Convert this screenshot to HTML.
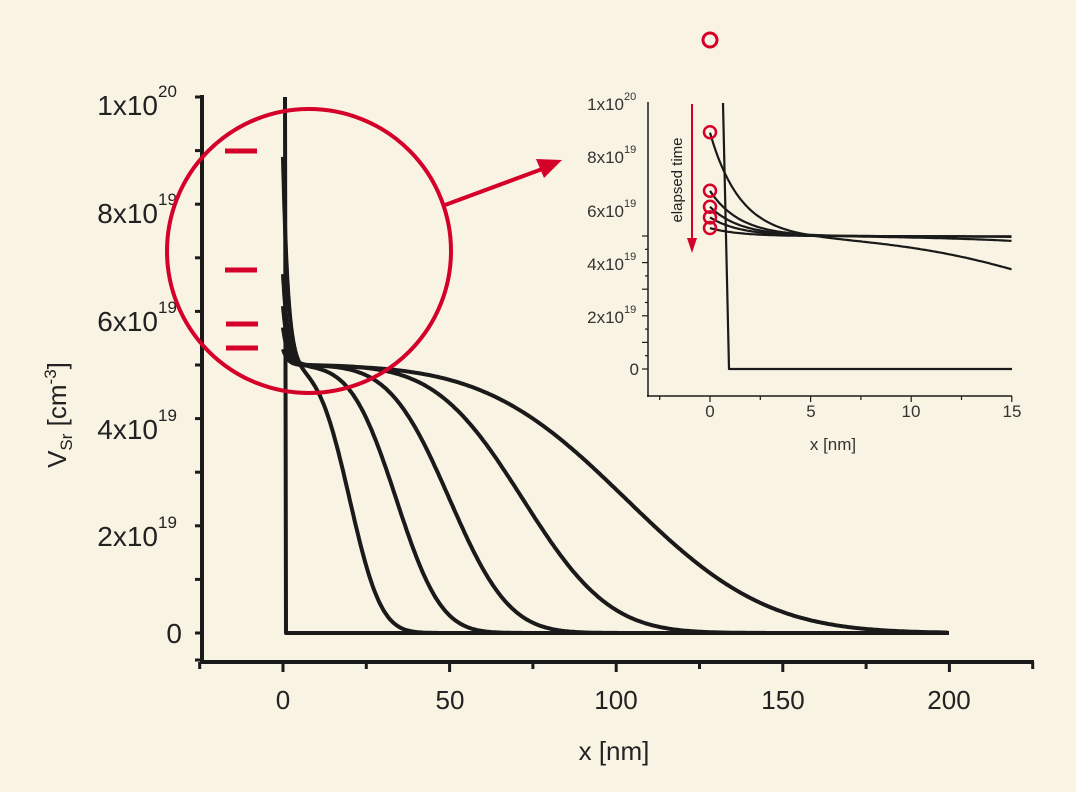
<!DOCTYPE html>
<html><head><meta charset="utf-8"><style>
html,body{margin:0;padding:0;background:#f9f3e3;}
svg{display:block;font-family:"Liberation Sans",sans-serif;}
</style></head><body>
<svg id="s" width="1076" height="792" viewBox="0 0 1076 792" xmlns="http://www.w3.org/2000/svg">
<rect width="1076" height="792" fill="#f9f3e3"/>
<g id="main"></g>
<g id="inset"></g>
<g stroke="#1a1a1a" stroke-width="4" fill="none">
<line x1="202" y1="95" x2="202" y2="664"/>
<line x1="200" y1="662" x2="1034" y2="662"/>
</g>
<g stroke="#1a1a1a" stroke-width="3" id="mticks"></g>
<g font-size="28" fill="#222" text-anchor="end">
<text x="158" y="115">1x10</text><text x="158" y="97" font-size="17" text-anchor="start">20</text>
<text x="158" y="223">8x10</text><text x="158" y="205" font-size="17" text-anchor="start">19</text>
<text x="158" y="331">6x10</text><text x="158" y="313" font-size="17" text-anchor="start">19</text>
<text x="158" y="439">4x10</text><text x="158" y="421" font-size="17" text-anchor="start">19</text>
<text x="158" y="546">2x10</text><text x="158" y="528" font-size="17" text-anchor="start">19</text>
<text x="182" y="643">0</text>
</g>
<g font-size="26" fill="#222" text-anchor="middle">
<text x="283" y="709">0</text><text x="450" y="709">50</text><text x="616" y="709">100</text><text x="783" y="709">150</text><text x="949" y="709">200</text>
<text x="614" y="760">x [nm]</text>
</g>
<text transform="translate(66,415) rotate(-90)" font-size="26" fill="#222" text-anchor="middle">V<tspan font-size="17" dy="6">Sr</tspan><tspan dy="-6"> [cm</tspan><tspan font-size="17" dy="-10">-3</tspan><tspan dy="10">]</tspan></text>
<g stroke="#d4002a" fill="none">
<circle cx="309" cy="251" r="142" stroke-width="4"/>
<g stroke-width="5"><line x1="225" y1="151" x2="257" y2="151"/><line x1="225" y1="270" x2="257" y2="270"/><line x1="226" y1="324" x2="258" y2="324"/><line x1="226" y1="348" x2="258" y2="348"/></g>
<line x1="445" y1="205" x2="545" y2="168" stroke-width="4"/>
<circle cx="710" cy="40" r="7" stroke-width="3"/>
<line x1="692" y1="104" x2="692" y2="240" stroke-width="2"/>
</g>
<polygon points="562,160 536,159 544,178" fill="#d4002a"/>
<polygon points="687,238 697,238 692,253" fill="#d4002a"/>
<text transform="translate(682,180) rotate(-90)" font-size="15" fill="#222" text-anchor="middle">elapsed time</text>
<g stroke="#1a1a1a" stroke-width="1.5" fill="none">
<line x1="648" y1="102" x2="648" y2="397"/>
<line x1="647" y1="396" x2="1012" y2="396"/>
</g>
<g stroke="#1a1a1a" stroke-width="1.2" id="iticks"></g>
<g font-size="17" fill="#333" text-anchor="end">
<text x="624" y="110">1x10</text><text x="624" y="100" font-size="11" text-anchor="start">20</text>
<text x="624" y="163">8x10</text><text x="624" y="153" font-size="11" text-anchor="start">19</text>
<text x="624" y="217">6x10</text><text x="624" y="207" font-size="11" text-anchor="start">19</text>
<text x="624" y="270">4x10</text><text x="624" y="260" font-size="11" text-anchor="start">19</text>
<text x="624" y="323">2x10</text><text x="624" y="313" font-size="11" text-anchor="start">19</text>
<text x="639" y="375">0</text>
</g>
<g font-size="17" fill="#333" text-anchor="middle">
<text x="710" y="417">0</text><text x="811" y="417">5</text><text x="911" y="417">10</text><text x="1012" y="417">15</text>
<text x="833" y="450">x [nm]</text>
</g>
<g id="rc" stroke="#d4002a" stroke-width="2.5" fill="none"></g>
</svg>
<script>
function erf(x){var s=x<0?-1:1;x=Math.abs(x);var t=1/(1+0.3275911*x);var y=1-(((((1.061405429*t-1.453152027)*t)+1.421413741)*t-0.284496736)*t+0.254829592)*t*Math.exp(-x*x);return s*y;}
var curves=[[20,10.5,8.9],[34,15,6.7],[50,20,6.1],[72,29,5.7],[103,47,5.3]];
function f(c,x){return 2.5*(1-erf((x-c[0])/c[1]))+(c[2]-5)*Math.exp(-x/1.5);}
var ns="http://www.w3.org/2000/svg";
function path(g,d,w){var p=document.createElementNS(ns,"path");p.setAttribute("d",d);p.setAttribute("stroke","#1a1a1a");p.setAttribute("stroke-width",w);p.setAttribute("fill","none");p.setAttribute("stroke-linejoin","round");g.appendChild(p);}
function line(g,x1,y1,x2,y2){var l=document.createElementNS(ns,"line");l.setAttribute("x1",x1);l.setAttribute("y1",y1);l.setAttribute("x2",x2);l.setAttribute("y2",y2);g.appendChild(l);}
var M=document.getElementById("main"),I=document.getElementById("inset");
function mx(x){return 283+x*3.33;} function my(v){return 633-v*53.6;}
function ix(x){return 710+x*20.1;} function iy(v){return 369-v*26.6;}
curves.forEach(function(c){
 var d="",e="";
 for(var x=0;x<=200;x+=(x<5?0.1:0.5)){d+=(d?"L":"M")+mx(x).toFixed(1)+","+my(f(c,x)).toFixed(1);}
 path(M,d,4);
 for(var x=0;x<=15;x+=0.1){e+=(e?"L":"M")+ix(x).toFixed(1)+","+iy(f(c,x)).toFixed(1);}
 path(I,e,2.2);
});
path(M,"M285,97L286,633L949,633",4);
path(I,"M723,103L729,369L1012,369",2.2);
var T=document.getElementById("mticks");
for(var i=0;i<=10;i++){var y=633-i*53.6;line(T,195,y,202,y);}
line(T,195,660,202,660);
for(var i=-1;i<=9;i++){var x=283+i*83.3;line(T,x,662,x,(i%2==0)?672:669);}
var IT=document.getElementById("iticks");
for(var i=0;i<=10;i++){var y=369-i*13.3;line(IT,(i%2==0)?642:645,y,648,y);}
for(var i=-1;i<=6;i++){var x=710+i*50.3;line(IT,x,396,x,(i%2==0)?402:400);}
var RC=document.getElementById("rc");
[8.9,6.7,6.1,5.7,5.3].forEach(function(v){var c=document.createElementNS(ns,"circle");c.setAttribute("cx",710);c.setAttribute("cy",iy(v));c.setAttribute("r",6);RC.appendChild(c);});
</script>
</body></html>
